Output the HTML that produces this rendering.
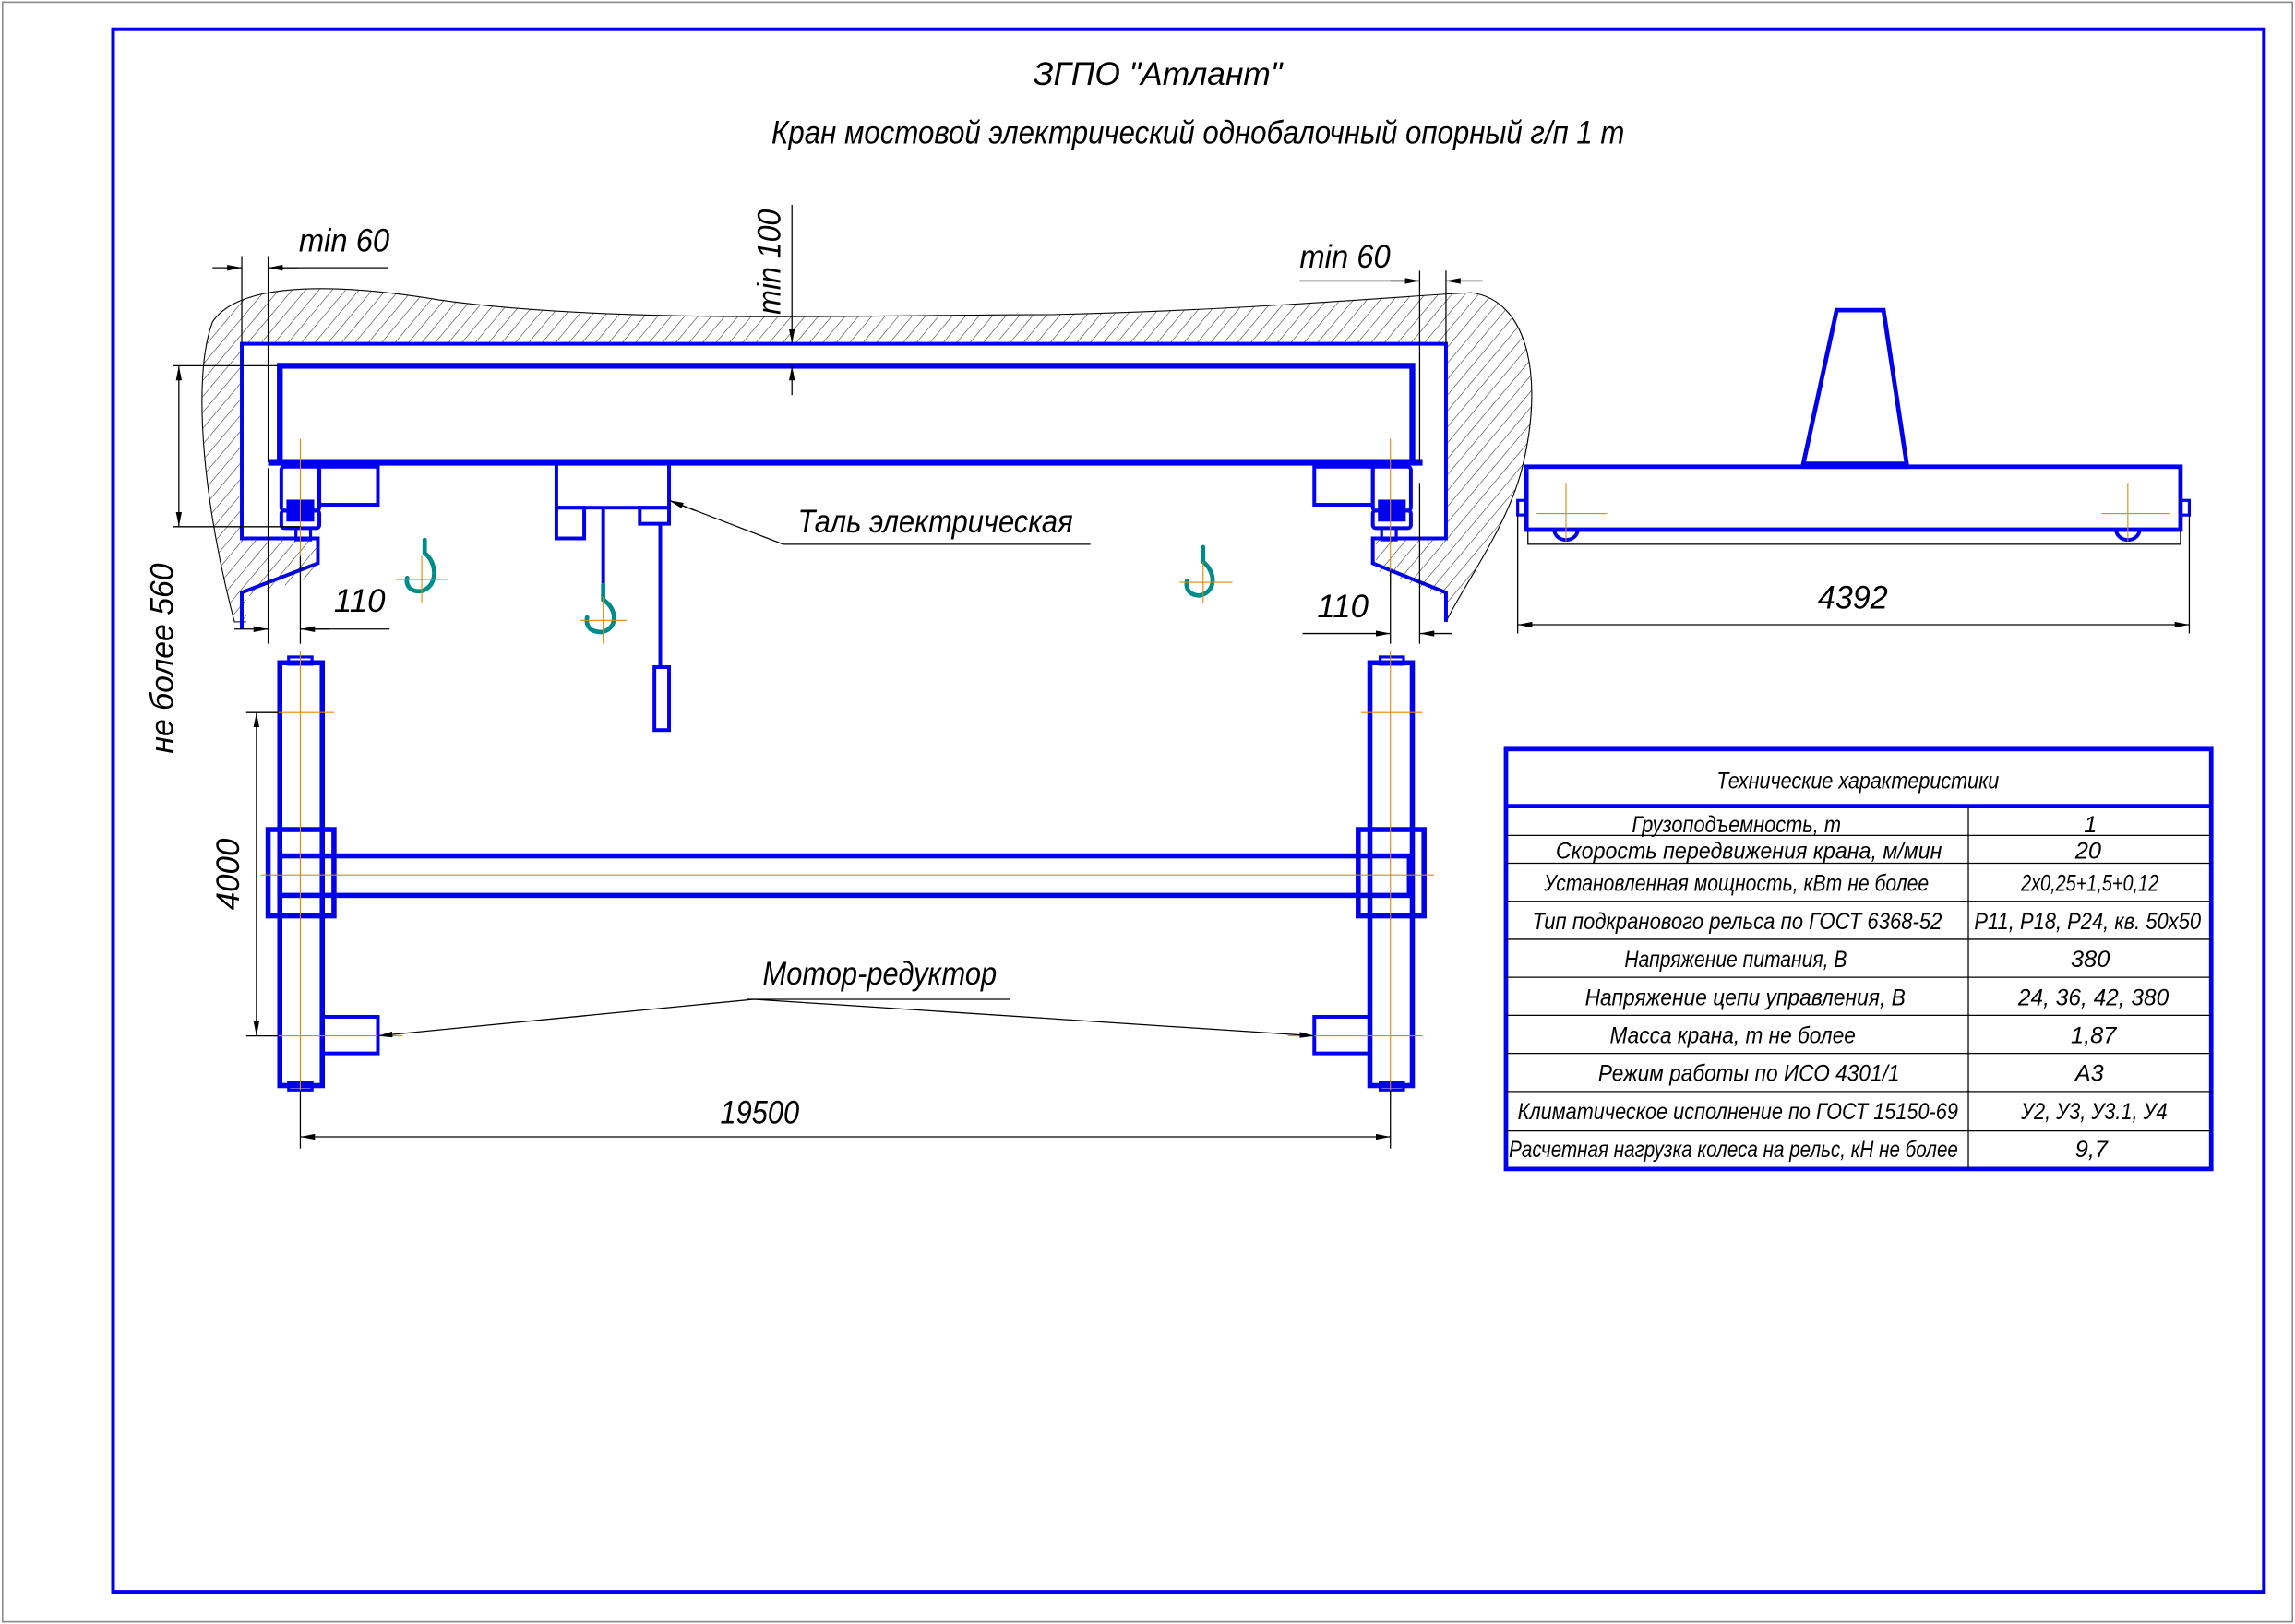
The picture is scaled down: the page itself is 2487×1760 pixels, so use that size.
<!DOCTYPE html>
<html><head><meta charset="utf-8"><style>
html,body{margin:0;padding:0;background:#fff}
svg{display:block}
text{font-family:"Liberation Sans",sans-serif;font-style:italic;fill:#000}
</style></head><body>
<svg width="2487" height="1760" viewBox="0 0 1568 1110" xmlns="http://www.w3.org/2000/svg">
<defs>
<pattern id="h" width="7" height="7" patternUnits="userSpaceOnUse" patternTransform="rotate(40)">
<line x1="0" y1="0" x2="0" y2="7" stroke="#333" stroke-width="0.7"/>
</pattern>
<marker id="a" viewBox="0 0 10 4" refX="10" refY="2" markerWidth="10" markerHeight="4" orient="auto-start-reverse" markerUnits="userSpaceOnUse"><path d="M0,0 L10,2 L0,4z" fill="#000"/></marker>
</defs>
<rect x="1.5" y="1.5" width="1565" height="1107" fill="none" stroke="#888" stroke-width="1"/>
<rect x="77" y="20" width="1470" height="1068" fill="none" stroke="#0000ee" stroke-width="2.5"/>

<text x="706" y="58" font-size="22" textLength="170" lengthAdjust="spacingAndGlyphs">ЗГПО "Атлант"</text>
<text x="527" y="98" font-size="22" textLength="583" lengthAdjust="spacingAndGlyphs">Кран мостовой электрический однобалочный опорный г/п 1 т</text>

<path d="M160,425 C140,350 130,260 145,220 C165,190 240,195 300,205 C420,222 600,215 720,215 C850,212 950,203 1005,200 C1045,205 1055,260 1040,320 C1030,360 1000,400 988,425 Z" fill="url(#h)" stroke="#000" stroke-width="0.7"/>
<rect x="166" y="236" width="821" height="132" fill="#fff"/>
<polygon points="218,368 218,393 168,408 168,440 988,440 988,408 940,390 940,368" fill="#fff"/>

<g fill="none" stroke="#0000ee">
<path d="M165,430 L165,405 L217,385 L217,368 L165,368 L165,235 L988,235 L988,368 L938,368 L938,385 L988,405 L988,425" stroke-width="2.5"/>
<rect x="191" y="250" width="774" height="66" stroke-width="4"/>
<line x1="183" y1="316" x2="972" y2="316" stroke-width="4.5"/>
<rect x="192" y="319" width="26" height="30" stroke-width="2.5" rx="2"/>
<rect x="192" y="349" width="26" height="12" stroke-width="2.5" rx="2"/>
<rect x="196" y="342" width="18" height="14" fill="#0000ee" stroke-width="1"/>
<rect x="218" y="319" width="40" height="26" stroke-width="2.5"/>
<rect x="202" y="361" width="10" height="8" stroke-width="2"/>
<rect x="938" y="319" width="26" height="30" stroke-width="2.5" rx="2"/>
<rect x="938" y="349" width="26" height="12" stroke-width="2.5" rx="2"/>
<rect x="942" y="342" width="18" height="14" fill="#0000ee" stroke-width="1"/>
<rect x="898" y="319" width="40" height="26" stroke-width="2.5"/>
<rect x="944" y="361" width="10" height="8" stroke-width="2"/>
<rect x="380" y="316" width="77" height="31" stroke-width="2.5"/>
<rect x="380" y="347" width="19" height="21" stroke-width="2.5"/>
<rect x="437" y="347" width="20" height="11" stroke-width="2.5"/>
<line x1="412" y1="347" x2="412" y2="400" stroke-width="2.5"/>
<line x1="451" y1="358" x2="451" y2="456" stroke-width="2.5"/>
<rect x="447" y="456" width="10" height="43" stroke-width="2.5"/>
<rect x="191" y="453" width="29" height="289" stroke-width="3.5"/>
<rect x="936" y="453" width="29" height="289" stroke-width="3.5"/>
<rect x="197" y="449" width="16" height="5" stroke-width="2"/>
<rect x="197" y="740" width="16" height="5" stroke-width="2"/>
<rect x="943" y="449" width="16" height="5" stroke-width="2"/>
<rect x="943" y="740" width="16" height="5" stroke-width="2"/>
<rect x="183" y="567" width="45" height="59" stroke-width="3.5"/>
<rect x="928" y="567" width="45" height="59" stroke-width="3.5"/>
<rect x="191" y="585" width="772" height="27" stroke-width="3.5"/>
<rect x="220" y="695" width="38" height="25" stroke-width="2.5"/>
<rect x="898" y="695" width="38" height="25" stroke-width="2.5"/>
<rect x="1043" y="319" width="447" height="43" stroke-width="3"/>
<polygon points="1255,212 1287,212 1303,318 1232,318" stroke-width="3"/>
<line x1="1232" y1="318" x2="1303" y2="318" stroke-width="5"/>
<rect x="1037" y="342" width="6" height="10" stroke-width="2"/>
<rect x="1490" y="342" width="6" height="10" stroke-width="2"/>
<path d="M1062,362 a8,7 0 0 0 16,0 M1446,362 a8,7 0 0 0 16,0" stroke-width="2.5"/>
</g>
<rect x="1044" y="363" width="446" height="9" fill="none" stroke="#000" stroke-width="0.8"/>

<g fill="none" stroke="#008b8b" stroke-width="3" stroke-linecap="round">
<path d="M290,369 L290,378 C298,384 300,400 288,404 C280,405 277,400 278,395"/>
<path d="M412,400 L412,410 C422,416 422,430 411,432 C403,432 400,428 401,422"/>
<path d="M822,374 L822,384 C830,390 832,404 820,407 C812,407 810,402 811,397"/>
</g>

<g stroke="#e08a00" stroke-width="0.7">
<line x1="288" y1="380" x2="288" y2="412"/><line x1="270" y1="396" x2="306" y2="396"/>
<line x1="412" y1="408" x2="412" y2="440"/><line x1="396" y1="424" x2="428" y2="424"/>
<line x1="822" y1="384" x2="822" y2="412"/><line x1="806" y1="398" x2="842" y2="398"/>
<line x1="205" y1="300" x2="205" y2="400"/><line x1="950" y1="300" x2="950" y2="400"/>
<line x1="205" y1="445" x2="205" y2="750"/><line x1="950" y1="445" x2="950" y2="750"/>
<line x1="178" y1="598" x2="980" y2="598"/>
<line x1="185" y1="487" x2="228" y2="487"/><line x1="930" y1="487" x2="972" y2="487"/>
<line x1="185" y1="708" x2="275" y2="708"/><line x1="880" y1="708" x2="972" y2="708"/>
<line x1="1070" y1="330" x2="1070" y2="370"/><line x1="1050" y1="351" x2="1098" y2="351"/>
<line x1="1454" y1="330" x2="1454" y2="370"/><line x1="1436" y1="351" x2="1483" y2="351"/>
</g>

<g stroke="#000" stroke-width="0.8" fill="none">
<line x1="165" y1="175" x2="165" y2="235"/><line x1="183" y1="175" x2="183" y2="316"/>
<line x1="145" y1="183" x2="165" y2="183" marker-end="url(#a)"/>
<line x1="203" y1="183" x2="183" y2="183" marker-end="url(#a)"/>
<line x1="183" y1="183" x2="265" y2="183"/>
<line x1="970" y1="185" x2="970" y2="316"/><line x1="988" y1="185" x2="988" y2="235"/>
<line x1="950" y1="192" x2="970" y2="192" marker-end="url(#a)"/>
<line x1="1013" y1="192" x2="988" y2="192" marker-end="url(#a)"/>
<line x1="888" y1="192" x2="970" y2="192"/>
<line x1="541" y1="140" x2="541" y2="235" marker-end="url(#a)"/>
<line x1="541" y1="270" x2="541" y2="250" marker-end="url(#a)"/>
<line x1="118" y1="250" x2="190" y2="250"/><line x1="118" y1="360" x2="205" y2="360"/>
<line x1="122" y1="250" x2="122" y2="360" marker-start="url(#a)" marker-end="url(#a)"/>
<line x1="183" y1="320" x2="183" y2="440"/><line x1="205" y1="380" x2="205" y2="440"/>
<line x1="160" y1="430" x2="183" y2="430" marker-end="url(#a)"/>
<line x1="225" y1="430" x2="205" y2="430" marker-end="url(#a)"/>
<line x1="205" y1="430" x2="266" y2="430"/>
<line x1="950" y1="390" x2="950" y2="440"/><line x1="970" y1="330" x2="970" y2="440"/>
<line x1="890" y1="433" x2="950" y2="433" marker-end="url(#a)"/>
<line x1="992" y1="433" x2="970" y2="433" marker-end="url(#a)"/>
<line x1="168" y1="487" x2="190" y2="487"/><line x1="168" y1="708" x2="190" y2="708"/>
<line x1="175" y1="487" x2="175" y2="708" marker-start="url(#a)" marker-end="url(#a)"/>
<line x1="205" y1="745" x2="205" y2="785"/><line x1="950" y1="745" x2="950" y2="785"/>
<line x1="205" y1="777" x2="950" y2="777" marker-start="url(#a)" marker-end="url(#a)"/>
<line x1="1037" y1="352" x2="1037" y2="433"/><line x1="1496" y1="352" x2="1496" y2="433"/>
<line x1="1037" y1="427" x2="1496" y2="427" marker-start="url(#a)" marker-end="url(#a)"/>
<polyline points="745,372 535,372 457,342"/>
<line x1="475" y1="349" x2="457" y2="342" marker-end="url(#a)"/>
<line x1="510" y1="683" x2="690" y2="683"/>
<line x1="515" y1="683" x2="258" y2="708" marker-end="url(#a)"/>
<line x1="515" y1="683" x2="898" y2="708" marker-end="url(#a)"/>
</g>
<text x="204" y="172" font-size="22" textLength="62" lengthAdjust="spacingAndGlyphs">min 60</text>
<text x="888" y="183" font-size="22" textLength="62" lengthAdjust="spacingAndGlyphs">min 60</text>
<text x="0" y="0" font-size="22" transform="translate(533,215) rotate(-90)" textLength="72" lengthAdjust="spacingAndGlyphs">min 100</text>
<text x="0" y="0" font-size="22" transform="translate(118,515) rotate(-90)" textLength="130" lengthAdjust="spacingAndGlyphs">не более 560</text>
<text x="228" y="418" font-size="22">110</text>
<text x="900" y="422" font-size="22">110</text>
<text x="0" y="0" font-size="22" transform="translate(163,622) rotate(-90)">4000</text>
<text x="492" y="768" font-size="22" textLength="54" lengthAdjust="spacingAndGlyphs">19500</text>
<text x="1242" y="416" font-size="22" textLength="48" lengthAdjust="spacingAndGlyphs">4392</text>
<text x="545" y="364" font-size="22" textLength="188" lengthAdjust="spacingAndGlyphs">Таль электрическая</text>
<text x="521" y="673" font-size="22" textLength="160" lengthAdjust="spacingAndGlyphs">Мотор-редуктор</text>

<g stroke="#0000ee" fill="none">
<rect x="1029" y="512" width="482" height="287" stroke-width="3"/>
<line x1="1029" y1="551" x2="1511" y2="551" stroke-width="3"/>
</g>
<g stroke="#000" stroke-width="0.8">
<line x1="1345" y1="551" x2="1345" y2="799"/>
<line x1="1029" y1="571" x2="1511" y2="571"/>
<line x1="1029" y1="590" x2="1511" y2="590"/>
<line x1="1029" y1="616" x2="1511" y2="616"/>
<line x1="1029" y1="642" x2="1511" y2="642"/>
<line x1="1029" y1="668" x2="1511" y2="668"/>
<line x1="1029" y1="694" x2="1511" y2="694"/>
<line x1="1029" y1="720" x2="1511" y2="720"/>
<line x1="1029" y1="746" x2="1511" y2="746"/>
<line x1="1029" y1="773" x2="1511" y2="773"/>
</g>
<g font-size="16" lengthAdjust="spacingAndGlyphs">
<text x="1173" y="539" textLength="193" lengthAdjust="spacingAndGlyphs">Технические характеристики</text>
<text x="1115" y="569" textLength="143" lengthAdjust="spacingAndGlyphs">Грузоподъемность, т</text><text x="1424" y="569">1</text>
<text x="1063" y="587" textLength="264" lengthAdjust="spacingAndGlyphs">Скорость передвижения крана, м/мин</text><text x="1418" y="587">20</text>
<text x="1055" y="609" textLength="263" lengthAdjust="spacingAndGlyphs">Установленная мощность, кВт не более</text><text x="1381" y="609" textLength="94" lengthAdjust="spacingAndGlyphs">2x0,25+1,5+0,12</text>
<text x="1047" y="635" textLength="280" lengthAdjust="spacingAndGlyphs">Тип подкранового рельса по ГОСТ 6368-52</text><text x="1349" y="635" textLength="155" lengthAdjust="spacingAndGlyphs">Р11, Р18, Р24, кв. 50x50</text>
<text x="1110" y="661" textLength="152" lengthAdjust="spacingAndGlyphs">Напряжение питания, В</text><text x="1415" y="661">380</text>
<text x="1083" y="687" textLength="219" lengthAdjust="spacingAndGlyphs">Напряжение цепи управления, В</text><text x="1379" y="687" textLength="103" lengthAdjust="spacingAndGlyphs">24, 36, 42, 380</text>
<text x="1100" y="713" textLength="168" lengthAdjust="spacingAndGlyphs">Масса крана, т не более</text><text x="1415" y="713">1,87</text>
<text x="1092" y="739" textLength="206" lengthAdjust="spacingAndGlyphs">Режим работы по ИСО 4301/1</text><text x="1418" y="739">А3</text>
<text x="1037" y="765" textLength="301" lengthAdjust="spacingAndGlyphs">Климатическое исполнение по ГОСТ 15150-69</text><text x="1381" y="765" textLength="100" lengthAdjust="spacingAndGlyphs">У2, У3, У3.1, У4</text>
<text x="1031" y="791" textLength="307" lengthAdjust="spacingAndGlyphs">Расчетная нагрузка колеса на рельс, кН не более</text><text x="1418" y="791">9,7</text>
</g>
</svg>
</body></html>
